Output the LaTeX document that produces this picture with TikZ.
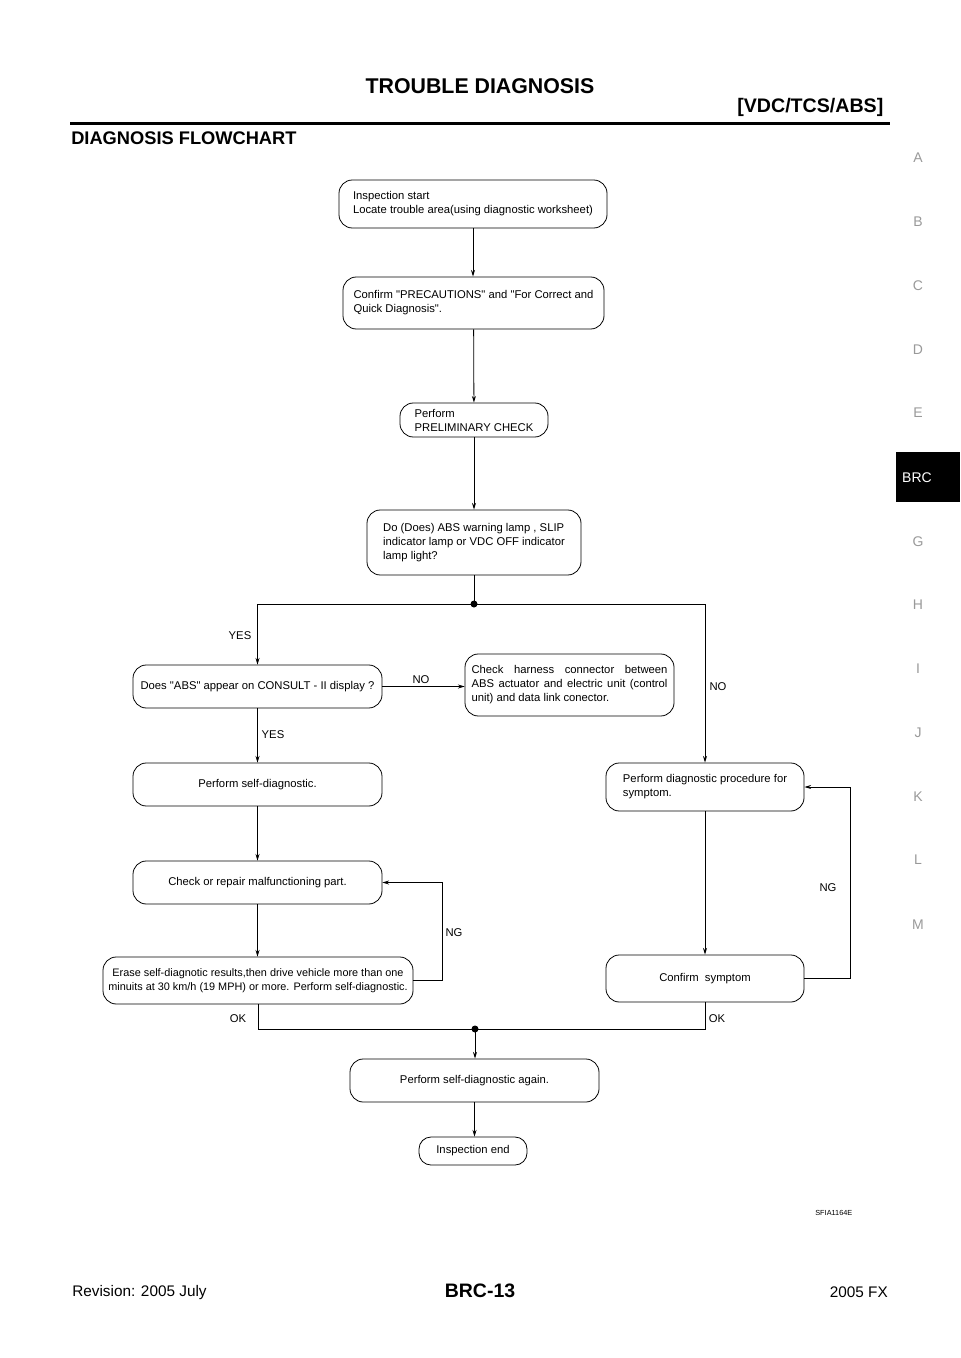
\documentclass[tikz,border=0pt]{standalone}
\usepackage{fontspec}
\setmainfont{Liberation Sans}
\usetikzlibrary{arrows.meta}
\newcommand{\jline}[1]{\makebox[147pt][s]{#1}}
\newcommand{\dq}{\textquotedbl}

\begin{document}
\begin{tikzpicture}[x=0.75pt,y=0.75pt,yscale=-1,xscale=1,
  flowbox/.style={draw, line width=0.6pt, rounded corners=10pt, align=left, inner sep=0pt, font=\fontsize{8.45}{10.5}\selectfont},
  lbl/.style={inner sep=1pt, font=\fontsize{8.45}{10.5}\selectfont},
  arr/.style={-{Stealth[length=5pt,width=3pt]}, line width=0.6pt},
  ln/.style={line width=0.6pt},
  tab/.style={text=black!40, font=\fontsize{10.5}{12}\selectfont}]
\useasboundingbox (0,0) rectangle (960,1358);
% Page header
\node[font=\bfseries\fontsize{16}{18}\selectfont] (title) at (480,86) {TROUBLE DIAGNOSIS};
\node[anchor=east, font=\bfseries\fontsize{14.7}{17}\selectfont] (section) at (888,107) {[VDC/TCS/ABS]};
\draw[line width=2.25pt] (70,124) -- (890,124);
\node[anchor=west, inner sep=0pt, font=\bfseries\fontsize{13.7}{16}\selectfont] (heading) at (71,138) {DIAGNOSIS FLOWCHART};
% Side index
\foreach \l/\y in {A/158,B/222,C/286,D/350,E/413,G/542,H/605,I/669,J/733,K/797,L/860,M/925}
  \node[tab] at (918,\y) {\l};
\fill (896,452) rectangle (960,502);
\node[text=white, font=\fontsize{10.5}{12}\selectfont] (brc) at (917,478) {BRC};
% Boxes
\node[flowbox, minimum width=201pt, minimum height=36pt] (start) at (473,204) {Inspection start\\Locate trouble area(using diagnostic worksheet)};
\node[flowbox, minimum width=195.75pt, minimum height=39pt] (precaution) at (473.5,303) {Confirm \dq PRECAUTIONS\dq{} and \dq For Correct and\\Quick Diagnosis\dq.};
\node[flowbox, minimum width=111pt, minimum height=25.5pt] (prelim) at (474,420) {Perform\\PRELIMINARY CHECK};
\node[flowbox, minimum width=160.5pt, minimum height=48.75pt] (lamp) at (474,542.5) {Do (Does) ABS warning lamp , SLIP\\indicator lamp or VDC OFF indicator\\lamp light?};
\coordinate (split) at (474,604);
\node[flowbox, minimum width=186.75pt, minimum height=32.25pt] (consult) at (257.5,686.5) {Does \dq ABS\dq{} appear on CONSULT - II display ?};
\node[flowbox, minimum width=156.75pt, minimum height=46.5pt] (harness) at (569.5,685) {\jline{Check harness connector between}\\\jline{ABS actuator and electric unit (control}\\unit) and data link conector.};
\node[flowbox, minimum width=186.75pt, minimum height=32.25pt] (selfdiag) at (257.5,784.5) {Perform self-diagnostic.};
\node[flowbox, minimum width=148.5pt, minimum height=36pt] (procedure) at (705,787) {Perform diagnostic procedure for\\symptom.};
\node[flowbox, minimum width=186.75pt, minimum height=32.25pt] (repair) at (257.5,882.5) {Check or repair malfunctioning part.};
\node[flowbox, minimum width=232.5pt, minimum height=35.25pt, align=center, font=\fontsize{8.15}{10.5}\selectfont] (erase) at (258,980.5) {Erase self-diagnotic results,then drive vehicle more than one\\minuits at 30 km/h (19 MPH) or more. Perform self-diagnostic.};
\node[flowbox, minimum width=148.5pt, minimum height=35.25pt] (symptom) at (705,978.5) {Confirm\ \ symptom};
\coordinate (merge) at (475,1029);
\node[flowbox, minimum width=186.75pt, minimum height=32.25pt] (again) at (474.5,1080.5) {Perform self-diagnostic again.};
\node[flowbox, minimum width=81pt, minimum height=21pt, rounded corners=9pt] (finish) at (473,1151) {Inspection end};
% Connectors
\draw[arr] (start.south) -- (start.south |- precaution.north);
\draw[arr] (precaution) -- (prelim);
\draw[arr] (prelim) -- (lamp);
\draw[ln] (lamp) -- (split);
\fill (split) circle (3.5);
\draw[arr] (split) -| (consult.north);
\draw[arr] (split) -| (procedure.north);
\draw[arr] (consult.east) -- (consult.east -| harness.west);
\draw[arr] (consult) -- (selfdiag);
\draw[arr] (selfdiag) -- (repair);
\draw[arr] (repair.south) -- (repair.south |- erase.north);
\draw[arr] (erase.east) -- ++(29,0) |- (repair.east);
\draw[arr] (procedure) -- (symptom);
\draw[arr] (symptom.east) -- ++(46,0) |- (procedure.east);
\draw[ln] (erase.south) |- (merge) -| (symptom.south);
\fill (merge) circle (3.5);
\draw[arr] (merge) -- (merge |- again.north);
\draw[arr] (again.south) -- (again.south |- finish.north);
% Labels
\node[lbl] (yes1) at (240,636) {YES};
\node[lbl] (no1) at (421,680) {NO};
\node[lbl] (yes2) at (273,735) {YES};
\node[lbl] (no2) at (718,687) {NO};
\node[lbl] (ng1) at (454,933) {NG};
\node[lbl] (ng2) at (828,888) {NG};
\node[lbl] (ok1) at (238,1019) {OK};
\node[lbl] (ok2) at (717,1019) {OK};
% Footer
\node[anchor=east, font=\fontsize{5.5}{6}\selectfont] (code) at (857,1213) {SFIA1164E};
\node[anchor=west, inner sep=0pt, font=\fontsize{11.5}{13}\selectfont] (revision) at (72,1293) {Revision: 2005 July};
\node[font=\bfseries\fontsize{14.6}{16}\selectfont] (page) at (480,1291) {BRC-13};
\node[anchor=east, inner sep=0pt, font=\fontsize{11.5}{13}\selectfont] (model) at (888,1292) {2005 FX};
\end{tikzpicture}
\end{document}
